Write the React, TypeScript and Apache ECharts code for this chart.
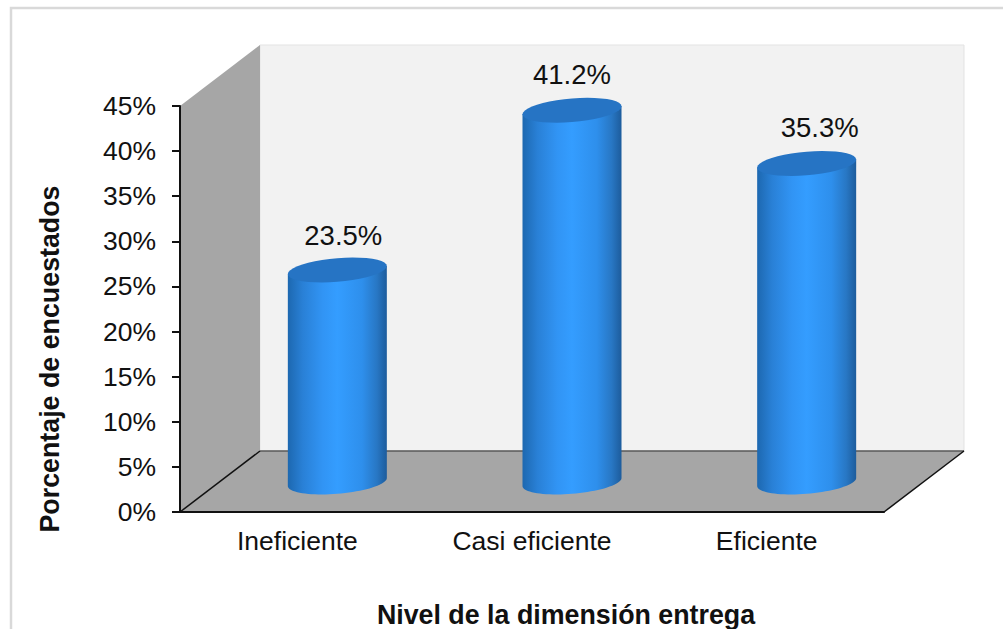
import React, { useEffect, useRef } from "react";
import * as echarts from "echarts";

const categories = ["Ineficiente", "Casi eficiente", "Eficiente"];
const percentages = [23.5, 41.2, 35.3];
const axisMax = 45;
const axisStep = 5;
const xAxisTitle = "Nivel de la dimensión entrega";
const yAxisTitle = "Porcentaje de encuestados";

// Oblique projection of the depth axis, in pixels.
const DEPTH_X = 80;
const DEPTH_Y = -61;
const FONT = '"Liberation Sans", Arial, sans-serif';
const LABEL_NUDGE: [number, number][] = [[6, -34], [0, -36], [13, -36]];

function ellipsePoints(cx: number, cy: number, a: number, b: number, shear: number, from: number, to: number) {
  const pts: number[][] = [];
  const steps = 40;
  for (let i = 0; i <= steps; i++) {
    const t = from + ((to - from) * i) / steps;
    const ex = a * Math.cos(t);
    pts.push([cx + ex, cy + b * Math.sin(t) - shear * Math.cos(t)]);
  }
  return pts;
}

// Side wall, back wall and floor of the chart's box.
function renderRoom(_: any, api: any) {
  const [x0, y0] = api.coord([0, 0]).map((v: number, i: number) => (i === 0 ? v - api.size([1, 0])[0] / 2 : v));
  const yTop = api.coord([0, axisMax])[1];
  const x1 = x0 + api.size([1, 0])[0] * categories.length;
  const line = (x1a: number, y1a: number, x2a: number, y2a: number, stroke: string, width: number) => ({
    type: "line",
    shape: { x1: x1a, y1: y1a, x2: x2a, y2: y2a },
    style: { stroke, lineWidth: width },
  });
  return {
    type: "group",
    children: [
      {
        type: "polygon",
        shape: { points: [[x0 + DEPTH_X, yTop + DEPTH_Y], [x1 + DEPTH_X, yTop + DEPTH_Y], [x1 + DEPTH_X, y0 + DEPTH_Y], [x0 + DEPTH_X, y0 + DEPTH_Y]] },
        style: { fill: "#f2f2f2", stroke: "#e3e3e3", lineWidth: 1 },
      },
      {
        type: "polygon",
        shape: { points: [[x0, yTop], [x0 + DEPTH_X, yTop + DEPTH_Y], [x0 + DEPTH_X, y0 + DEPTH_Y], [x0, y0]] },
        style: { fill: "#a6a6a6" },
      },
      {
        type: "polygon",
        shape: { points: [[x0, y0], [x1, y0], [x1 + DEPTH_X, y0 + DEPTH_Y], [x0 + DEPTH_X, y0 + DEPTH_Y]] },
        style: { fill: "#a6a6a6" },
      },
      line(x0 + DEPTH_X, y0 + DEPTH_Y, x1 + DEPTH_X, y0 + DEPTH_Y, "#595959", 1.5),
      line(x0, y0, x0 + DEPTH_X, y0 + DEPTH_Y, "#111111", 1.5),
      line(x1, y0, x1 + DEPTH_X, y0 + DEPTH_Y, "#111111", 1.5),
    ],
  };
}

// A tilted cylinder standing halfway into the depth of the floor.
function renderCylinder(params: any, api: any) {
  const idx = api.value(0);
  const value = api.value(1);
  const base = api.coord([idx, 0]);
  const top = api.coord([idx, value]);
  const cx = base[0] + DEPTH_X / 2;
  const yBase = base[1] + DEPTH_Y / 2 + 0.5;
  const yTop = top[1] + DEPTH_Y / 2 + 0.5;
  const a = 49.5;
  const b = 11.8;
  const shear = 4;
  const lower = ellipsePoints(cx, yBase, a, b, shear, Math.PI, 0);
  const upper = [[cx + a, yTop - shear], [cx - a, yTop + shear]];
  const nudge = LABEL_NUDGE[params.dataIndex];
  return {
    type: "group",
    children: [
      {
        type: "polygon",
        shape: { points: [...lower, ...upper] },
        style: {
          fill: new echarts.graphic.LinearGradient(0, 0, 1, 0, [
            { offset: 0, color: "#1d68b0" },
            { offset: 0.15, color: "#2980d6" },
            { offset: 0.35, color: "#3194f4" },
            { offset: 0.5, color: "#349dff" },
            { offset: 0.75, color: "#2e8fec" },
            { offset: 0.9, color: "#2877c4" },
            { offset: 1, color: "#1d5c9c" },
          ]),
        },
      },
      {
        type: "polygon",
        shape: { points: ellipsePoints(cx, yTop, a, b, shear, 0, Math.PI * 2) },
        style: { fill: "#2674c4" },
      },
      {
        type: "text",
        style: {
          x: cx + nudge[0],
          y: yTop + nudge[1],
          text: value.toFixed(1) + "%",
          fill: "#111111",
          font: `27.5px ${FONT}`,
          align: "center",
          verticalAlign: "middle",
        },
      },
    ],
  };
}

export default function App() {
  const ref = useRef<HTMLDivElement>(null);

  useEffect(() => {
    const chart = echarts.init(ref.current!, null, { renderer: "svg" });
    chart.setOption({
      animation: false,
      backgroundColor: "#ffffff",
      textStyle: { fontFamily: FONT },
      graphic: [
        {
          type: "rect",
          silent: true,
          z: -1,
          shape: { x: 11, y: 8, width: 1003, height: 640 },
          style: { fill: "#ffffff", stroke: "#d9d9d9", lineWidth: 2.5 },
        },
      ],
      grid: { left: 180, right: 119, top: 106, bottom: 117, outerBoundsMode: "none" },
      xAxis: {
        type: "category",
        data: categories,
        z: 4,
        name: xAxisTitle,
        nameLocation: "middle",
        nameGap: 89,
        nameTextStyle: { fontSize: 26.8, fontWeight: "bold", color: "#111111", fontFamily: FONT, padding: [0, 0, 0, 68] },
        axisLine: { lineStyle: { color: "#111111", width: 2 } },
        axisTick: { show: false },
        axisLabel: { fontSize: 26.5, color: "#111111", margin: 15 },
      },
      yAxis: {
        type: "value",
        min: 0,
        max: axisMax,
        interval: axisStep,
        z: 4,
        name: yAxisTitle,
        nameLocation: "middle",
        nameGap: 117,
        nameTextStyle: { fontSize: 26.8, fontWeight: "bold", color: "#111111", fontFamily: FONT, padding: [0, 100, 0, 0] },
        axisLine: { show: true, lineStyle: { color: "#111111", width: 2 } },
        axisTick: { show: true, length: 8, lineStyle: { color: "#111111", width: 2 } },
        splitLine: { show: false },
        axisLabel: { fontSize: 26.5, color: "#111111", margin: 24, formatter: "{value}%" },
      },
      series: [
        {
          type: "custom",
          name: "Fondo",
          z: 1,
          silent: true,
          data: [[0, 0]],
          encode: { x: 0, y: 1 },
          renderItem: renderRoom,
        },
        {
          type: "custom",
          name: "Porcentaje",
          z: 5,
          data: percentages.map((v, i) => [i, v]),
          encode: { x: 0, y: 1 },
          renderItem: renderCylinder,
        },
      ],
    });
    return () => chart.dispose();
  }, []);

  return <div ref={ref} style={{ position: "fixed", left: 0, top: 0, width: 1003, height: 629 }} />;
}
